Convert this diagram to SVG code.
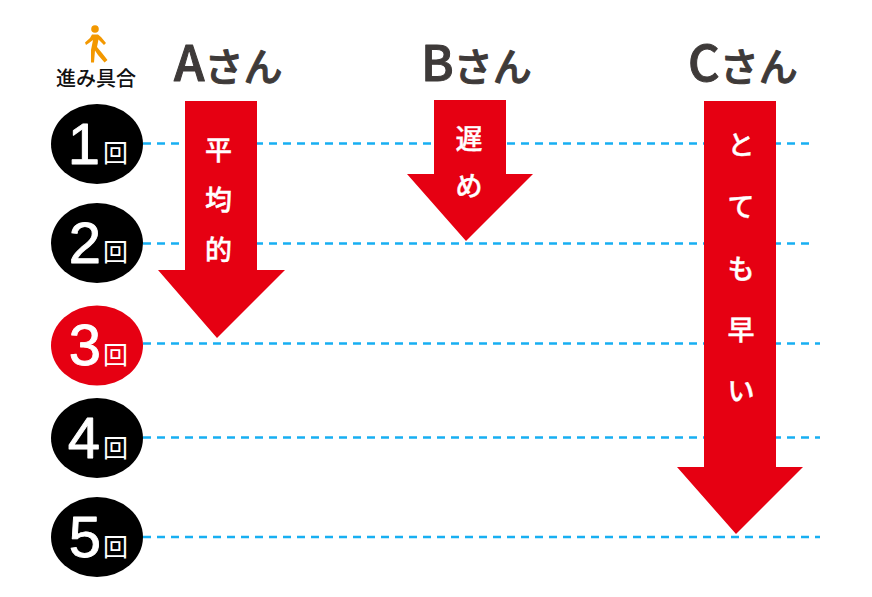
<svg xmlns="http://www.w3.org/2000/svg" width="872" height="597" viewBox="0 0 872 597">
<style>
.dash{stroke:#17aff2;stroke-width:2.500;stroke-dasharray:8 6;fill:none}
.arrow{fill:#e60012}
.num{font-family:"Liberation Sans",sans-serif;font-size:58px;font-weight:400;fill:#fff;stroke:#fff;stroke-width:.9;stroke-linejoin:round;text-anchor:middle}
.kai{font-family:"Noto Sans CJK JP",sans-serif;font-size:25px;font-weight:400;fill:#fff;text-anchor:middle}
.name{font-family:"Noto Sans CJK JP",sans-serif;font-size:39px;font-weight:500;fill:#3e3a39;stroke:#3e3a39;stroke-width:1;stroke-linejoin:round}
.big{font-size:49px;font-weight:500}
.v{font-family:"Noto Sans CJK JP",sans-serif;font-size:27px;font-weight:500;fill:#fff;stroke:#fff;stroke-width:.4;text-anchor:middle}
.lab{font-family:"Noto Sans CJK JP",sans-serif;font-size:20px;font-weight:500;fill:#111;text-anchor:middle}
</style>
<rect width="872" height="597" fill="#fff"/>
<g id="connectors">
<line class="dash" x1="143" y1="143.500" x2="810" y2="143.500"/>
<line class="dash" x1="143" y1="243.500" x2="815" y2="243.500"/>
<line class="dash" x1="143" y1="343.500" x2="820" y2="343.500"/>
<line class="dash" x1="143" y1="437.500" x2="820" y2="437.500"/>
<line class="dash" x1="143" y1="537" x2="820" y2="537"/>
</g>
<g id="legend">
<g fill="#f39800">
<circle cx="95" cy="29" r="3.800"/>
<path d="M92 34.500L98 34.500L101 37L106 43L104 45L98.500 39.500L97 47L102 53L107.500 60L104.500 62.500L98 55L95 50.500L94 62.500L91 62.500L91 50L93 40L89 43L86 45L85 42.500L90 38Z"/>
</g>
<text class="lab" x="96" y="86">進み具合</text>
</g>
<g id="name-a"><text class="name" x="174" y="81"><tspan class="big">A</tspan>さん</text></g>
<g id="name-b"><text class="name" x="421" y="81"><tspan class="big">B</tspan>さん</text></g>
<g id="name-c"><text class="name" x="688" y="81"><tspan class="big">C</tspan>さん</text></g>
<g id="round-1"><ellipse cx="97" cy="144" rx="46" ry="40"/><text class="num" x="84" y="164">1</text><text class="kai" x="115.500" y="162">回</text></g>
<g id="round-2"><ellipse cx="97" cy="243" rx="46" ry="40"/><text class="num" x="85" y="263">2</text><text class="kai" x="115.500" y="261">回</text></g>
<g id="round-3"><ellipse cx="97" cy="345.500" rx="46" ry="40" fill="#e60012"/><text class="num" x="85" y="365">3</text><text class="kai" x="115.500" y="364">回</text></g>
<g id="round-4"><ellipse cx="97" cy="438" rx="46" ry="40"/><text class="num" x="84" y="458">4</text><text class="kai" x="115.500" y="457">回</text></g>
<g id="round-5"><ellipse cx="97" cy="537" rx="46" ry="40"/><text class="num" x="85" y="557">5</text><text class="kai" x="115.500" y="556">回</text></g>
<g id="arrow-a">
<polygon class="arrow" points="185,101 257,101 257,270 285,270 217,338 158,270 185,270"/>
<text class="v" x="218.500" y="160">平</text><text class="v" x="218.500" y="210">均</text><text class="v" x="218.500" y="260">的</text>
</g>
<g id="arrow-b">
<polygon class="arrow" points="434,100 506,100 506,174 533,174 466,241 407,174 434,174"/>
<text class="v" x="469" y="149">遅</text><text class="v" x="469" y="196">め</text>
</g>
<g id="arrow-c">
<polygon class="arrow" points="704,101 776,101 776,467 803,467 736,534 677,467 704,467"/>
<text class="v" x="741" y="155">と</text><text class="v" x="741" y="217">て</text><text class="v" x="741" y="279">も</text><text class="v" x="741" y="340">早</text><text class="v" x="741" y="401">い</text>
</g>
</svg>
